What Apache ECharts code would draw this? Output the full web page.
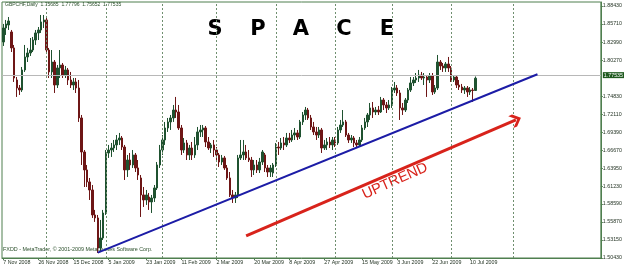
<!DOCTYPE html>
<html><head><meta charset="utf-8">
<script src="https://cdn.jsdelivr.net/npm/echarts@6/dist/echarts.min.js"></script>
<style>html,body{margin:0;padding:0;background:#fff}#c{width:625px;height:269px}</style>
</head><body><div id="c"></div>
<script>
// ---- data ----
const headerText = 'GBPCHF,Daily  1.75685  1.77796  1.75652  1.77535';
const titleLetters = ['S', 'P', 'A', 'C', 'E'];
const copyrightText = 'FXDD - MetaTrader, \u00A9 2001-2009 MetaQuotes Software Corp.';
const trendText = 'UPTREND';
const firstDate = '2008-11-07';
const holidays = ['2008-12-25', '2009-01-01'];
const slotCount = 222; // trading days + empty future days shown on the axis
// [open, close, low, high]
const ohlc = [
[1.8300,1.8511,1.8240,1.8572],[1.8511,1.8572,1.8406,1.8632],[1.8556,1.8617,1.8481,1.8677],[1.8451,1.8210,1.8149,1.8481],
[1.8210,1.7757,1.7697,1.8255],[1.7727,1.7606,1.7471,1.7772],[1.7606,1.7576,1.7501,1.7651],[1.7576,1.7878,1.7546,1.7923],
[1.7878,1.8074,1.7848,1.8255],[1.8074,1.8134,1.7998,1.8210],[1.8134,1.8179,1.8089,1.8360],[1.8179,1.8330,1.8149,1.8376],
[1.8330,1.8436,1.8255,1.8481],[1.8436,1.8481,1.8330,1.8526],[1.8481,1.8602,1.8436,1.8707],[1.8602,1.8632,1.8511,1.8707],
[1.8632,1.8179,1.8149,1.8662],[1.8179,1.7848,1.7757,1.8210],[1.7848,1.7998,1.7757,1.8179],[1.7998,1.7651,1.7531,1.8028],
[1.7651,1.7908,1.7606,1.7953],[1.7908,1.7953,1.7757,1.8179],[1.7953,1.7802,1.7757,1.7983],[1.7802,1.7878,1.7757,1.7938],
[1.7878,1.7727,1.7651,1.7908],[1.7727,1.7651,1.7606,1.7848],[1.7651,1.7697,1.7576,1.7757],[1.7697,1.7606,1.7531,1.7757],
[1.7606,1.7154,1.7094,1.7727],[1.7154,1.6641,1.6445,1.7199],[1.6641,1.6370,1.6113,1.6671],[1.6370,1.6189,1.6113,1.6445],
[1.6189,1.6068,1.5917,1.6249],[1.6068,1.5691,1.5646,1.6143],[1.5691,1.5646,1.5586,1.5767],[1.5646,1.5193,1.5118,1.5691],
[1.5193,1.5344,1.5133,1.5616],[1.5344,1.5721,1.5314,1.5767],[1.5721,1.6626,1.5691,1.6671],[1.6626,1.6671,1.6551,1.6747],
[1.6671,1.6701,1.6566,1.6777],[1.6701,1.6747,1.6641,1.6822],[1.6747,1.6822,1.6671,1.6897],[1.6822,1.6852,1.6747,1.6928],
[1.6852,1.6716,1.6671,1.6882],[1.6716,1.6370,1.6219,1.6747],[1.6370,1.6520,1.6264,1.6596],[1.6520,1.6445,1.6370,1.6626],
[1.6445,1.6596,1.6400,1.6671],[1.6596,1.6400,1.6339,1.6626],[1.6400,1.6294,1.6219,1.6520],[1.6249,1.5993,1.5661,1.6294],
[1.5993,1.5917,1.5812,1.6113],[1.5917,1.5993,1.5842,1.6068],[1.5962,1.5887,1.5767,1.6023],[1.5887,1.5947,1.5721,1.5993],
[1.5947,1.6098,1.5887,1.6143],[1.6098,1.6445,1.6068,1.6490],[1.6445,1.6671,1.6400,1.6747],[1.6671,1.6822,1.6596,1.6897],
[1.6822,1.7003,1.6747,1.7094],[1.7003,1.7094,1.6943,1.7154],[1.7094,1.7154,1.6973,1.7199],[1.7154,1.7274,1.7094,1.7350],
[1.7274,1.7244,1.7154,1.7471],[1.7244,1.7003,1.6973,1.7350],[1.7003,1.6671,1.6596,1.7048],[1.6671,1.6777,1.6626,1.6852],
[1.6777,1.6596,1.6520,1.6822],[1.6596,1.6701,1.6520,1.6747],[1.6701,1.6596,1.6520,1.6792],[1.6596,1.6747,1.6551,1.6867],
[1.6747,1.6943,1.6671,1.7018],[1.6943,1.6973,1.6867,1.7048],[1.6973,1.7003,1.6867,1.7048],[1.7003,1.6792,1.6716,1.7033],
[1.6792,1.6701,1.6671,1.6867],[1.6701,1.6747,1.6626,1.6777],[1.6747,1.6671,1.6566,1.6822],[1.6671,1.6596,1.6520,1.6716],
[1.6596,1.6490,1.6415,1.6626],[1.6490,1.6551,1.6445,1.6596],[1.6551,1.6400,1.6370,1.6581],[1.6400,1.6249,1.6219,1.6445],
[1.6249,1.5993,1.5962,1.6339],[1.5993,1.5947,1.5872,1.6068],[1.5947,1.5993,1.5872,1.6038],[1.5993,1.6551,1.5947,1.6596],
[1.6551,1.6596,1.6520,1.6822],[1.6596,1.6641,1.6520,1.6822],[1.6641,1.6551,1.6520,1.6747],[1.6551,1.6520,1.6490,1.6671],
[1.6520,1.6370,1.6264,1.6566],[1.6370,1.6445,1.6294,1.6520],[1.6445,1.6370,1.6324,1.6520],[1.6370,1.6490,1.6324,1.6551],
[1.6490,1.6641,1.6445,1.6671],[1.6596,1.6400,1.6339,1.6626],[1.6400,1.6339,1.6264,1.6445],[1.6339,1.6400,1.6264,1.6445],
[1.6324,1.6445,1.6264,1.6475],[1.6445,1.6716,1.6415,1.6777],[1.6716,1.6701,1.6596,1.6792],[1.6701,1.6777,1.6671,1.6852],
[1.6777,1.6747,1.6671,1.6867],[1.6747,1.6852,1.6716,1.6928],[1.6852,1.6822,1.6777,1.6928],[1.6822,1.6897,1.6792,1.6973],
[1.6897,1.6928,1.6822,1.7003],[1.6928,1.6867,1.6822,1.6973],[1.6867,1.7094,1.6837,1.7124],[1.7094,1.7199,1.7048,1.7244],
[1.7199,1.7274,1.7124,1.7320],[1.7274,1.7154,1.7124,1.7305],[1.7154,1.7018,1.6973,1.7199],[1.7018,1.6943,1.6897,1.7094],
[1.6943,1.6897,1.6822,1.7018],[1.6897,1.6973,1.6852,1.7018],[1.6973,1.6701,1.6626,1.7003],[1.6701,1.6747,1.6671,1.6822],
[1.6747,1.6792,1.6671,1.6852],[1.6792,1.6747,1.6701,1.6867],[1.6747,1.6822,1.6671,1.6867],[1.6822,1.6777,1.6716,1.6867],
[1.6777,1.6973,1.6747,1.7018],[1.6973,1.7048,1.6928,1.7124],[1.7048,1.7094,1.7018,1.7274],[1.7094,1.6897,1.6867,1.7124],
[1.6897,1.6822,1.6777,1.6928],[1.6822,1.6852,1.6777,1.6897],[1.6852,1.6777,1.6716,1.6882],[1.6777,1.6747,1.6701,1.6822],
[1.6747,1.6822,1.6716,1.6867],[1.6822,1.7003,1.6792,1.7048],[1.7003,1.7094,1.6973,1.7154],[1.7094,1.7199,1.7018,1.7229],
[1.7199,1.7305,1.7124,1.7380],[1.7305,1.7244,1.7154,1.7395],[1.7244,1.7274,1.7199,1.7320],[1.7274,1.7244,1.7199,1.7335],
[1.7244,1.7425,1.7229,1.7471],[1.7425,1.7350,1.7274,1.7455],[1.7350,1.7305,1.7229,1.7395],[1.7305,1.7350,1.7274,1.7425],
[1.7350,1.7576,1.7305,1.7621],[1.7576,1.7606,1.7531,1.7697],[1.7606,1.7531,1.7486,1.7651],[1.7531,1.7305,1.7124,1.7576],
[1.7305,1.7274,1.7199,1.7380],[1.7274,1.7425,1.7244,1.7455],[1.7425,1.7576,1.7380,1.7606],[1.7576,1.7682,1.7546,1.7772],
[1.7682,1.7727,1.7636,1.7772],[1.7727,1.7757,1.7682,1.7832],[1.7757,1.7802,1.7697,1.7878],[1.7802,1.7757,1.7727,1.7848],
[1.7757,1.7772,1.7651,1.7832],[1.7772,1.7727,1.7471,1.7802],[1.7727,1.7787,1.7682,1.7832],[1.7787,1.7546,1.7501,1.7832],
[1.7546,1.7606,1.7516,1.7651],[1.7606,1.7998,1.7576,1.8104],[1.7998,1.7938,1.7878,1.8028],[1.7938,1.7908,1.7848,1.7983],
[1.7908,1.7968,1.7848,1.7998],[1.7968,1.7908,1.7848,1.8074],[1.7908,1.7727,1.7697,1.7938],[1.7727,1.7772,1.7697,1.7802],
[1.7772,1.7651,1.7606,1.7802],[1.7651,1.7621,1.7576,1.7727],[1.7621,1.7576,1.7531,1.7667],[1.7576,1.7606,1.7516,1.7636],
[1.7606,1.7546,1.7471,1.7636],[1.7546,1.7576,1.7501,1.7621],[1.7576,1.7568,1.7395,1.7606],[1.75685,1.77535,1.75652,1.77796]
];
const xLabelDates = ['2008-11-07','2008-11-26','2008-12-15','2009-01-05','2009-01-23','2009-02-11','2009-03-02',
  '2009-03-20','2009-04-08','2009-04-27','2009-05-15','2009-06-03','2009-06-22','2009-07-10'];
const monthStarts = ['2008-12-01','2009-01-02','2009-02-02','2009-03-02','2009-04-01','2009-05-01',
  '2009-06-01','2009-07-01','2009-08-03'];
const yTickValues = [1.88430,1.85710,1.82990,1.80270,1.74830,1.72110,1.69390,1.66670,1.63950,1.61230,
  1.58590,1.55870,1.53150,1.50430];
const yRange = [1.5042, 1.8903];
const lastPrice = 1.77535;
const trendLine = [['2008-12-29', 1.5122], ['2009-08-14', 1.7813]];
const upArrow = [['2009-03-17', 1.5374], ['2009-08-04', 1.7124]];

// ---- categories: trading days (weekdays without holidays) ----
const dates = [];
(function () {
  let d = new Date(firstDate + 'T00:00:00Z');
  while (dates.length < slotCount) {
    const s = d.toISOString().slice(0, 10);
    const wd = d.getUTCDay();
    if (wd !== 0 && wd !== 6 && holidays.indexOf(s) < 0) dates.push(s);
    d = new Date(d.getTime() + 86400000);
  }
})();
const MON = ['Jan','Feb','Mar','Apr','May','Jun','Jul','Aug','Sep','Oct','Nov','Dec'];
function fmtDate(s) {
  const p = s.split('-');
  return (+p[2]) + ' ' + MON[+p[1] - 1] + ' ' + p[0];
}

const GREEN = '#4f7f4f';
const chevron = 'path://M5,0 L10,6 L10,9.5 L5,3.5 L0,9.5 L0,6 Z';
const chart = echarts.init(document.getElementById('c'), null, {renderer: 'canvas'});
chart.setOption({
  animation: false,
  backgroundColor: '#ffffff',
  grid: {left: 2, right: 22, top: 2, bottom: 11, show: true, borderColor: GREEN, borderWidth: 1},
  xAxis: {
    type: 'category', data: dates, boundaryGap: true,
    axisLine: {lineStyle: {color: GREEN, width: 1}},
    axisTick: {show: true, alignWithLabel: true, length: 2, lineStyle: {color: GREEN},
      interval: (i, v) => xLabelDates.indexOf(v) >= 0},
    axisLabel: {interval: (i, v) => xLabelDates.indexOf(v) >= 0, formatter: fmtDate,
      align: 'left', fontSize: 5.3, color: '#1e2e1e', margin: 2, fontFamily: 'Liberation Sans'},
    splitLine: {show: false}
  },
  yAxis: {
    type: 'value', position: 'right', min: yRange[0], max: yRange[1], scale: true,
    axisLine: {show: true, lineStyle: {color: GREEN}},
    axisTick: {show: true, length: 2, customValues: yTickValues, lineStyle: {color: GREEN}},
    axisLabel: {customValues: yTickValues, formatter: v => v.toFixed(5), fontSize: 5.3,
      color: '#1e2e1e', margin: 2, fontFamily: 'Liberation Sans'},
    splitLine: {show: false}
  },
  series: [
    {
      type: 'line', data: [], z: 1, silent: true,
      markLine: {
        silent: true, symbol: ['none', 'none'], animation: false,
        label: {show: false},
        data: monthStarts.map(d => ({xAxis: d, lineStyle: {type: [2, 2], color: '#6f8f6f', width: 1}}))
          .concat([{yAxis: lastPrice, lineStyle: {type: 'solid', color: '#b8b8b8', width: 1},
            label: {show: true, position: 'end', distance: 2, formatter: lastPrice.toFixed(5),
              backgroundColor: '#1f5a1f', color: '#ffffff', fontSize: 5.3, padding: [1, 1, 0, 1],
              fontFamily: 'Liberation Sans'}}])
      }
    },
    {
      type: 'candlestick', data: ohlc, z: 3, barWidth: 2,
      itemStyle: {color: '#1f5230', color0: '#6e1616', borderColor: '#1f5230', borderColor0: '#6e1616', borderWidth: 1},
      markLine: {
        silent: true, animation: false, label: {show: false},
        data: [
          [{coord: trendLine[0], symbol: 'none'}, {coord: trendLine[1], symbol: 'none',
            lineStyle: {color: '#1c1ca6', width: 2, type: 'solid'}}],
          [{coord: upArrow[0], symbol: 'none'}, {coord: upArrow[1], symbol: chevron, symbolSize: [13, 11],
            lineStyle: {color: '#d8231b', width: 3, type: 'solid'}}]
        ],
        lineStyle: {type: 'solid'}
      }
    }
  ],
  graphic: [
    {type: 'text', left: 5, top: 2, style: {text: headerText, fontSize: 5, fill: '#2b4f2b', fontFamily: 'Liberation Sans'}},
    {type: 'text', left: 3, top: 247, style: {text: copyrightText, fontSize: 5.4, fill: '#2b4f2b', fontFamily: 'Liberation Sans'}}
  ].concat(titleLetters.map((ch, k) => ({
    type: 'text', x: 215 + k * 43, y: 30,
    style: {text: ch, fontSize: 21, fontWeight: 'bold', fill: '#000', align: 'center', verticalAlign: 'middle',
      fontFamily: 'DejaVu Sans'}
  }))).concat([
    {type: 'text', x: 395, y: 181, rotation: 0.42,
      style: {text: trendText, fontSize: 14.5, fill: '#d8231b', align: 'center', verticalAlign: 'middle',
        fontFamily: 'Liberation Sans'}}
  ])
});
</script>
</body></html>
